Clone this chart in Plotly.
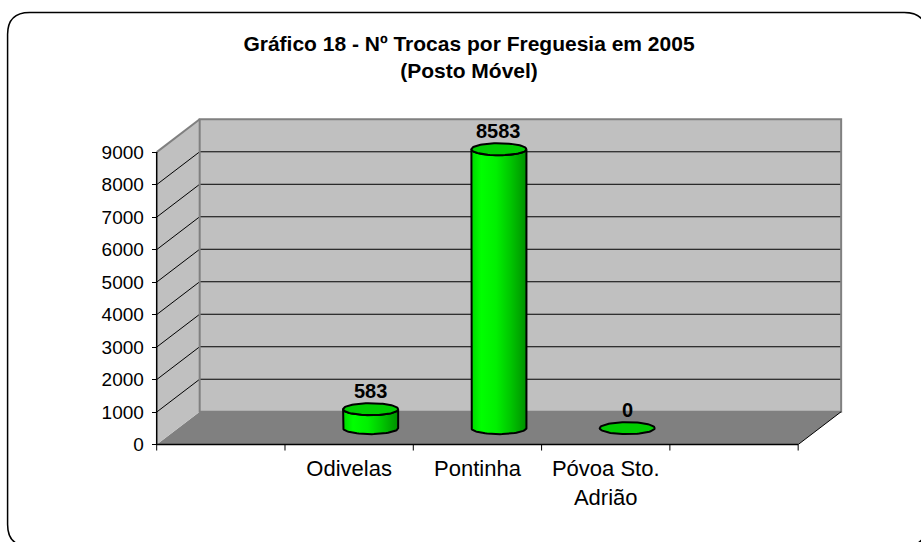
import numpy as np
import plotly.graph_objects as go

# ---------------- data ----------------
categories = ["Odivelas", "Pontinha", "Póvoa Sto.<br>Adrião"]
values = [583, 8583, 0]
value_labels = ["583", "8583", "0"]
y_ticks = [0, 1000, 2000, 3000, 4000, 5000, 6000, 7000, 8000, 9000]
title_line1 = "Gráfico 18 - Nº Trocas por Freguesia em 2005"
title_line2 = "(Posto Móvel)"

# ---------------- geometry / style ----------------
N_SLOTS = 5                 # category slots on the floor (first and last empty)
slot_idx = [1, 2, 3]        # slots used by the categories
WALL_TOP = 9000
DX = 0.335                  # depth offset (category units)
DY = 1010                   # depth offset (value units)
PXX = 128.2                 # px per category unit
PXY = 293 / 9000            # px per value unit
RX = 0.2145                 # cylinder radius (category units)
RY = 6 / PXY                # ellipse half-height (value units)
TICK = 6 / PXY
FONT = "Liberation Sans, Arial, sans-serif"

x_min, x_max = -0.06, N_SLOTS + DX + 0.03
y_min, y_max = -260, WALL_TOP + DY + 40
plot_w = (x_max - x_min) * PXX
plot_h = (y_max - y_min) * PXY
Y0_PX = 445
left = 157 + x_min * PXX
top = Y0_PX - y_max * PXY
bottom_px = top + plot_h
W, H = 921, 542


def paper(px, py):
    return (px - left) / plot_w, (bottom_px - py) / plot_h


GREEN_BODY = [[0, "#00D800"], [0.18, "#00FF00"], [0.45, "#00F000"],
              [0.7, "#00C800"], [1, "#009000"]]
GREEN_TOP = "#00CC00"

fig = go.Figure()

# cylinders
for s, v in zip(slot_idx, values):
    cx = s + 0.5 + DX / 2
    base = DY / 2
    topv = v + DY / 2
    th = np.linspace(np.pi, 2 * np.pi, 40)
    if v > 0:
        bx = list(cx + RX * np.cos(th))
        by = list(base + RY * np.sin(th))
        tx = list(cx + RX * np.cos(th))[::-1]
        ty = list(topv + RY * np.sin(th))[::-1]
        xs = [cx - RX] + bx + [cx + RX] + tx
        ys = [topv] + by + [topv] + ty
        fig.add_trace(go.Scatter(
            x=xs, y=ys, mode="lines", fill="toself",
            fillgradient=dict(type="horizontal", colorscale=GREEN_BODY),
            line=dict(color="black", width=2), hoverinfo="skip", showlegend=False))
    ta = np.linspace(0, 2 * np.pi, 80)
    fig.add_trace(go.Scatter(
        x=cx + RX * np.cos(ta), y=topv + RY * np.sin(ta), mode="lines", fill="toself",
        fillcolor=GREEN_TOP, line=dict(color="black", width=2),
        hoverinfo="skip", showlegend=False))

annotations = []
for s, v, lab in zip(slot_idx, values, value_labels):
    cx = s + 0.5 + DX / 2
    annotations.append(dict(
        x=cx, y=v + DY / 2 + RY, xref="x", yref="y", text=f"<b>{lab}</b>",
        showarrow=False, yanchor="bottom", yshift=-1,
        font=dict(family=FONT, size=20, color="black")))

shapes = []
# back wall fill
shapes.append(dict(type="rect", xref="x", yref="y", x0=DX, x1=N_SLOTS + DX,
                   y0=DY, y1=WALL_TOP + DY, fillcolor="#C0C0C0",
                   line=dict(width=0), layer="below"))
# floor
shapes.append(dict(type="path", xref="x", yref="y",
                   path=f"M 0,0 L {N_SLOTS},0 L {N_SLOTS + DX},{DY} L {DX},{DY} Z",
                   fillcolor="#808080", line=dict(width=0), layer="below"))
# side wall
shapes.append(dict(type="path", xref="x", yref="y",
                   path=f"M 0,0 L 0,{WALL_TOP} L {DX},{WALL_TOP + DY} L {DX},{DY} Z",
                   fillcolor="#C0C0C0", line=dict(width=0), layer="below"))
# gridlines
for k in y_ticks[1:-1]:
    shapes.append(dict(type="line", xref="x", yref="y", x0=DX, x1=N_SLOTS + DX,
                       y0=k + DY, y1=k + DY, line=dict(color="black", width=1), layer="below"))
    shapes.append(dict(type="line", xref="x", yref="y", x0=0, x1=DX,
                       y0=k, y1=k + DY, line=dict(color="black", width=1), layer="below"))
# gray wall edges
shapes.append(dict(type="rect", xref="x", yref="y", x0=DX, x1=N_SLOTS + DX,
                   y0=DY, y1=WALL_TOP + DY, line=dict(color="#808080", width=2), layer="below"))
shapes.append(dict(type="line", xref="x", yref="y", x0=0, x1=DX,
                   y0=WALL_TOP, y1=WALL_TOP + DY, line=dict(color="#808080", width=2), layer="below"))
# front axes
shapes.append(dict(type="line", xref="x", yref="y", x0=0, x1=N_SLOTS, y0=0, y1=0,
                   line=dict(color="black", width=1.5), layer="below"))
shapes.append(dict(type="line", xref="x", yref="y", x0=N_SLOTS, x1=N_SLOTS + DX, y0=0, y1=DY,
                   line=dict(color="black", width=1), layer="below"))
shapes.append(dict(type="line", xref="x", yref="y", x0=0, x1=0, y0=0, y1=WALL_TOP,
                   line=dict(color="black", width=1.5), layer="below"))
for u in range(N_SLOTS + 1):
    shapes.append(dict(type="line", xref="x", yref="y", x0=u, x1=u, y0=0, y1=-TICK,
                       line=dict(color="black", width=1), layer="below"))

# rounded chart border
bx0, bx1, by0, by1, r = 8, 926, 12, 547, 22
pts = {
    "a": paper(bx0 + r, by0), "b": paper(bx1 - r, by0), "c": paper(bx1, by0), "d": paper(bx1, by0 + r),
    "e": paper(bx1, by1 - r), "f": paper(bx1, by1), "g": paper(bx1 - r, by1),
    "h": paper(bx0 + r, by1), "i": paper(bx0, by1), "j": paper(bx0, by1 - r),
    "k": paper(bx0, by0 + r), "l": paper(bx0, by0),
}
P = lambda n: f"{pts[n][0]:.5f},{pts[n][1]:.5f}"
border_path = (f"M {P('a')} L {P('b')} Q {P('c')} {P('d')} L {P('e')} Q {P('f')} {P('g')} "
               f"L {P('h')} Q {P('i')} {P('j')} L {P('k')} Q {P('l')} {P('a')} Z")
shapes.append(dict(type="path", xref="paper", yref="paper", path=border_path,
                   line=dict(color="black", width=1.5), layer="above"))

fig.update_layout(
    width=W, height=H,
    margin=dict(l=left, r=W - left - plot_w, t=top, b=H - bottom_px, pad=0),
    paper_bgcolor="white", plot_bgcolor="white",
    showlegend=False,
    title=dict(text=f"<b>{title_line1}</b><br><b>{title_line2}</b>",
               x=469 / W, xanchor="center", xref="container",
               y=1 - 50.5 / H, yanchor="middle", yref="container",
               font=dict(family=FONT, size=21, color="black")),
    xaxis=dict(range=[x_min, x_max], tickvals=[s + 0.5 for s in slot_idx],
               ticktext=categories, ticks="", showgrid=False, zeroline=False,
               showline=False, tickfont=dict(family=FONT, size=22, color="black"),
               fixedrange=True),
    yaxis=dict(range=[y_min, y_max], tickvals=y_ticks, ticks="outside", ticklen=5,
               tickcolor="black", tickwidth=1, anchor="free",
               position=(0 - x_min) / (x_max - x_min), ticklabelstandoff=4,
               showgrid=False, zeroline=False, showline=False,
               tickfont=dict(family=FONT, size=19, color="black"), fixedrange=True),
    shapes=shapes, annotations=annotations,
)

fig.write_html("out.html", config={"displayModeBar": False},
               post_script="document.body.style.margin='0';")
